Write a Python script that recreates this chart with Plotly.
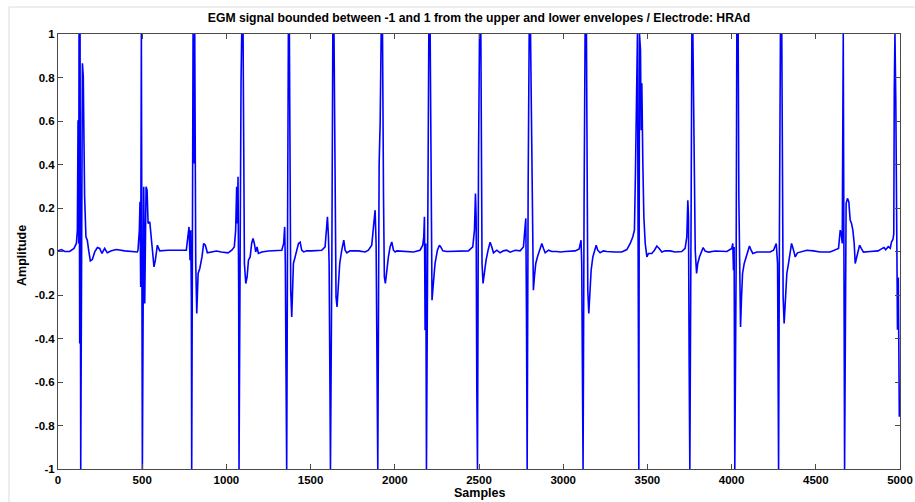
import plotly.graph_objects as go

# ---- data: key vertices of the EGM trace (sample index, normalised amplitude) ----
beat01_s = [0, 20, 40, 69, 95, 109, 115, 119, 123, 125, 129, 131, 135, 139, 145, 150, 158, 166, 174, 182, 192, 204, 218, 234, 248, 261, 277, 293, 317, 347, 396, 471]
beat01_a = [0.003, 0.009, 0, 0, 0.014, 0.037, 0.098, 0.604, 0.037, 1, -0.423, 1, -1, -0.362, 0.865, 0.804, 0.252, 0.067, 0.052, 0.006, -0.043, -0.037, -0.002, 0.018, 0.014, -0.009, 0.014, -0.006, 0.003, 0.009, 0.003, -0.002]

beat02_s = [475, 483, 487, 491, 495, 501, 509, 515, 523, 529, 535, 545, 554, 564, 570, 578, 590, 604, 653, 762]
beat02_a = [0.006, 0.098, 0.229, -0.163, 1, -1, 0.298, -0.239, 0.298, 0.282, 0.129, 0.137, 0.067, 0.006, -0.071, -0.04, 0.029, 0.003, 0.006, 0.006]

beat03_s = [772, 778, 784, 788, 792, 794, 802, 808, 812, 818, 824, 832, 842, 855, 865, 875, 887, 911, 941, 970, 1010]
beat03_a = [0.067, 0.113, -0.04, 0.098, -0.209, -1, 1, 0.405, 1, -0.055, -0.285, -0.101, -0.078, -0.025, 0.037, 0.029, -0.006, -0.002, 0.002, -0.002, -0.006]

beat04_s = [1032, 1047, 1055, 1061, 1065, 1069, 1073, 1075, 1087, 1091, 1099, 1103, 1107, 1115, 1123, 1131, 1141, 1150, 1158, 1166, 1174, 1182, 1190, 1210, 1249, 1329]
beat04_a = [0.006, 0.021, 0.098, 0.298, 0.129, 0.344, -0.178, -1, 0.788, 1, 1, 0.252, -0.055, -0.147, -0.117, -0.04, -0.025, 0.037, 0.060, 0.037, -0.002, 0.021, -0.009, -0.002, 0.002, 0.006]

beat05_s = [1340, 1346, 1350, 1354, 1358, 1364, 1368, 1374, 1378, 1382, 1388, 1392, 1398, 1408, 1418, 1428, 1438, 1447, 1459, 1477, 1507, 1566]
beat05_a = [0.037, 0.113, -0.055, -0.546, -1, 0.252, 1, 1, 0.405, -0.178, -0.301, -0.147, -0.055, -0.025, 0.006, 0.037, 0.043, 0.006, -0.002, 0.003, 0.003, 0.006]

beat06_s = [1586, 1600, 1606, 1610, 1614, 1618, 1626, 1632, 1639, 1645, 1651, 1657, 1665, 1673, 1685, 1697, 1705, 1715, 1735, 1784, 1824, 1843, 1863]
beat06_a = [0.021, 0.160, 0.067, -0.055, -0.515, -1, -0.055, 1, 1, 0.405, -0.209, -0.255, -0.117, -0.055, 0.006, 0.052, 0.006, -0.006, 0.003, 0.003, -0.002, 0.006, 0.029]

beat07_s = [1877, 1883, 1889, 1895, 1899, 1907, 1913, 1919, 1927, 1933, 1938, 1944, 1952, 1962, 1972, 1982, 1992, 2002]
beat07_a = [0.144, 0.190, 0.037, -0.515, -1, 0.405, 0.589, 1, 1, 0.252, -0.117, -0.147, -0.086, -0.025, 0.021, 0.044, 0.006, -0.002]

beat08_s = [2012, 2051, 2111, 2150, 2166, 2172, 2176, 2180, 2184, 2188, 2194, 2202, 2210, 2214, 2218, 2221, 2229, 2239, 2253, 2265, 2273, 2285, 2309, 2368, 2437, 2463]
beat08_a = [0.003, 0, -0.002, 0.006, 0.029, 0.067, 0.160, -0.362, 0.037, -1, -0.209, 1, 1, 0.635, 0.160, -0.224, -0.147, -0.055, 0.006, 0.029, 0.021, 0.003, 0, 0, 0.003, 0.021]

beat09_s = [2473, 2479, 2483, 2487, 2491, 2497, 2503, 2511, 2515, 2518, 2524, 2532, 2542, 2554, 2566, 2576, 2586, 2606, 2625, 2645, 2665, 2685, 2715, 2744, 2764]
beat09_a = [0.098, 0.267, 0.160, -0.638, -1, 0.405, 1, 1, 0.558, -0.055, -0.147, -0.086, -0.04, 0.006, 0.043, 0.021, -0.006, 0.006, -0.006, 0.003, 0.006, -0.003, 0.006, 0.003, 0.021]

beat10_s = [2772, 2778, 2782, 2786, 2792, 2798, 2806, 2812, 2817, 2823, 2829, 2837, 2847, 2859, 2873, 2883, 2893, 2913, 2932, 2962, 2982]
beat10_a = [0.098, 0.152, -0.301, -1, 0.313, 1, 1, 0.482, 0.006, -0.178, -0.117, -0.055, -0.025, 0.006, 0.037, 0.014, -0.006, 0.006, 0, 0, -0.002]

beat11_s = [3011, 3071, 3095, 3106, 3110, 3114, 3118, 3124, 3130, 3138, 3142, 3146, 3152, 3158, 3166, 3176, 3186, 3196, 3205, 3219, 3239, 3259, 3308, 3348, 3378, 3398, 3413]
beat11_a = [0, 0.003, 0.012, 0.052, -0.055, -0.592, -1, 0.221, 1, 1, 0.405, -0.178, -0.285, -0.178, -0.086, -0.025, 0.006, 0.029, 0.006, -0.006, 0.003, 0, -0.002, -0.002, 0.009, 0.037, 0.067]

beat12_s = [3423, 3429, 3433, 3437, 3441, 3445, 3449, 3453, 3459, 3463, 3467, 3473, 3479, 3487, 3497, 3506, 3526, 3542, 3556, 3570, 3586, 3605, 3635, 3665, 3704, 3724]
beat12_a = [0.098, 0.359, 0.712, 0.788, 1, -0.055, -1, 1, 0.926, 0.558, 0.773, 0.405, 0.160, 0.037, -0.025, -0.009, -0.009, 0.006, 0.025, 0.014, -0.002, 0.003, 0.003, -0.002, 0, 0.014]

beat13_s = [3734, 3740, 3744, 3748, 3752, 3760, 3764, 3770, 3776, 3784, 3792, 3799, 3809, 3819, 3831, 3843, 3863, 3902, 3962]
beat13_a = [0.067, 0.236, 0.160, -0.515, -1, 0.252, 1, 1, 0.405, 0.006, -0.101, -0.055, -0.025, -0.002, 0.018, 0.002, -0.003, 0.002, -0.002]

beat14_s = [3972, 4001, 4007, 4011, 4015, 4019, 4027, 4031, 4039, 4043, 4047, 4053, 4059, 4065, 4075, 4086, 4096, 4106, 4116, 4126, 4150, 4189, 4229, 4249, 4265]
beat14_a = [0, 0.014, 0.037, -0.086, 0.021, -1, -0.055, 1, 1, 0.252, -0.132, -0.347, -0.209, -0.101, -0.055, -0.025, 0.006, 0.025, 0.006, -0.009, -0.002, -0.002, -0.002, 0.006, 0.037]

beat15_s = [4273, 4279, 4284, 4290, 4298, 4302, 4306, 4312, 4320, 4328, 4338, 4348, 4356, 4368, 4378, 4391, 4417, 4447, 4486, 4526, 4585, 4615, 4635, 4645]
beat15_a = [-0.055, -1, 0.098, 1, 1, 0.252, -0.209, -0.331, -0.178, -0.101, -0.055, 0.006, 0.037, 0.006, -0.025, -0.006, -0.002, 0.006, 0.003, -0.002, -0.002, 0.006, 0.014, 0.098]

beat16_s = [4651, 4657, 4663, 4671, 4676, 4680, 4688, 4696, 4704, 4712, 4720, 4728, 4734, 4742, 4752, 4760, 4770, 4783, 4823, 4870, 4890, 4905, 4915, 4930, 4942, 4950, 4958]
beat16_a = [0.083, 0.037, 1, -1, -0.055, 0.221, 0.244, 0.229, 0.144, 0.129, 0.098, 0.037, -0.055, -0.025, 0.006, 0.029, 0.014, -0.003, 0, 0.003, 0.012, 0.018, 0.008, 0.022, 0.015, 0.045, 0.055]

beat17_s = [4963, 4966, 4970, 4975, 4980, 4985, 4990, 4996, 5000]
beat17_a = [0.08, 0.742, 1, 0.70, 0.10, -0.36, -0.12, -0.76, -0.70]

x_tick_values = [0, 500, 1000, 1500, 2000, 2500, 3000, 3500, 4000, 4500, 5000]
x_tick_labels = ["0", "500", "1000", "1500", "2000", "2500", "3000", "3500", "4000", "4500", "5000"]
y_tick_values = [-1, -0.8, -0.6, -0.4, -0.2, 0, 0.2, 0.4, 0.6, 0.8, 1]
y_tick_labels = ["-1", "-0.8", "-0.6", "-0.4", "-0.2", "0", "0.2", "0.4", "0.6", "0.8", "1"]

title_text = "EGM signal bounded between -1 and 1 from the upper and lower envelopes / Electrode: HRAd"
x_title = "Samples"
y_title = "Amplitude"

segments_s = [beat01_s, beat02_s, beat03_s, beat04_s, beat05_s, beat06_s, beat07_s, beat08_s, beat09_s,
              beat10_s, beat11_s, beat12_s, beat13_s, beat14_s, beat15_s, beat16_s, beat17_s]
segments_a = [beat01_a, beat02_a, beat03_a, beat04_a, beat05_a, beat06_a, beat07_a, beat08_a, beat09_a,
              beat10_a, beat11_a, beat12_a, beat13_a, beat14_a, beat15_a, beat16_a, beat17_a]

samples = [s for seg in segments_s for s in seg]
amplitude = [a for seg in segments_a for a in seg]

FONT = "Liberation Sans, Arial, sans-serif"
AXC = "#4a4a4a"
BOLD_BLACK = dict(family=FONT, color="#000000", weight="bold")

fig = go.Figure()
fig.add_trace(go.Scatter(x=samples, y=amplitude, mode="lines",
                         line=dict(color="#0000FF", width=1.6), hoverinfo="skip"))

axis_common = dict(showline=True, linecolor=AXC, linewidth=1, mirror="ticks",
                   ticks="inside", ticklen=5, tickcolor=AXC, tickwidth=1,
                   showgrid=False, zeroline=False, automargin=False,
                   tickfont=dict(size=11.5, **BOLD_BLACK))

fig.update_layout(
    width=915, height=502,
    margin=dict(l=58, r=15, t=34, b=33),
    paper_bgcolor="white", plot_bgcolor="white",
    showlegend=False,
    title=dict(text=title_text, x=0.5, xref="paper", xanchor="center",
               y=1 - 18 / 502, yref="container", yanchor="middle", automargin=False,
               font=dict(size=12.2, **BOLD_BLACK)),
    xaxis=dict(range=[0, 5000], tickvals=x_tick_values, ticktext=x_tick_labels, **axis_common),
    yaxis=dict(range=[-1, 1], tickvals=y_tick_values, ticktext=y_tick_labels, **axis_common),
)

fig.add_annotation(text=x_title, xref="paper", yref="paper", x=0.5, y=-0.0552,
                   xanchor="center", yanchor="middle", showarrow=False,
                   font=dict(size=12.5, **BOLD_BLACK))
fig.add_annotation(text=y_title, xref="paper", yref="paper", x=-0.0428, y=0.492,
                   xanchor="center", yanchor="middle", textangle=-90, showarrow=False,
                   font=dict(size=12.5, **BOLD_BLACK))

# faint outer frame lines of the original screenshot (top and left only)
fig.add_shape(type="line", xref="paper", yref="paper", x0=-0.0582, x1=1.03, y0=1.062, y1=1.062,
              line=dict(color="#dcdcdc", width=1), layer="below")
fig.add_shape(type="line", xref="paper", yref="paper", x0=-0.0582, x1=-0.0582, y0=1.062, y1=-0.09,
              line=dict(color="#dcdcdc", width=1), layer="below")

fig.write_html("out.html")
